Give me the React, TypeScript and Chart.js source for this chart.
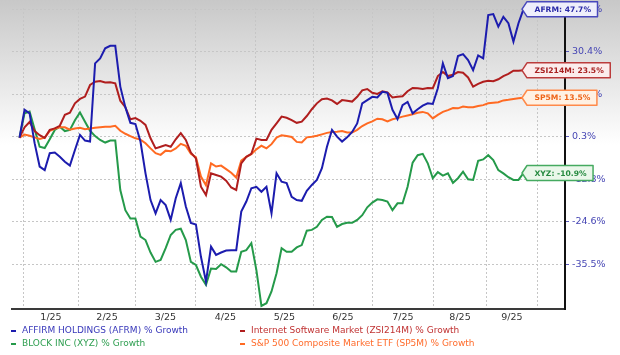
import React, { useEffect, useRef } from 'react';
import { Chart, LinearScale, registerables } from 'chart.js';

Chart.register(...registerables);

// ---------- data ----------
const MONTH_LABELS = ['1/25', '2/25', '3/25', '4/25', '5/25', '6/25', '7/25', '8/25', '9/25'];
// month boundaries on the sample-index axis
const MONTH_BOUNDS = [0.75, 11.75, 22.98, 34.88, 46.79, 58.29, 70.0, 82.1, 92.7, 102.7];
const Y_TICKS = [-35.5, -24.6, -12.8, 0.3, 14.7, 30.4, 47.7];

const AFRM = [
  0, 9.4, 8.2, -1.7, -8.9, -10.0, -4.8, -4.6, -5.9, -7.4,
  -8.6, -3.8, 0.9, -0.9, -1.2, 26.1, 27.9, 31.8, 32.8, 32.8,
  17.5, 10.3, 5.0, 4.6, -1.2, -11.0, -18.6, -22.3, -18.6, -20.0,
  -24.1, -18.1, -13.9, -20.4, -24.9, -25.3, -33.6, -40.0, -31.0, -33.1,
  -32.5, -32.0, -31.9, -31.9, -21.8, -19.0, -15.3, -14.9, -16.3, -14.9,
  -22.3, -11.0, -13.5, -13.9, -17.7, -18.6, -18.8, -16.0, -14.4, -13.0,
  -9.4, -2.8, 2.6, 0.3, -1.2, 0.1, 1.9, 4.8, 11.6, 12.7,
  13.8, 13.6, 15.6, 15.2, 9.4, 6.3, 11.0, 12.1, 8.2, 9.6,
  10.8, 11.6, 11.4, 16.9, 26.1, 20.6, 21.4, 28.8, 29.5, 27.3,
  23.6, 29.0, 27.9, 45.3, 45.7, 40.6, 44.6, 42.0, 34.5, 42.0, 47.7,
];

const ZSI214M = [
  0, 3.5, 5.3, 2.2, 0.8, -0.1, 2.6, 3.1, 4.0, 7.7,
  8.4, 11.6, 13.1, 13.9, 18.1, 19.3, 19.6, 19.0, 19.1, 18.7,
  12.5, 10.3, 6.2, 6.6, 5.7, 4.3, -0.2, -3.3, -2.8, -2.3,
  -2.8, -0.5, 1.5, -0.7, -4.6, -6.4, -14.9, -17.2, -11.0, -11.5,
  -12.0, -13.2, -15.1, -15.8, -7.9, -5.9, -5.0, -0.3, -0.7, -0.7,
  2.6, 4.8, 7.1, 6.7, 5.9, 5.0, 5.4, 7.3, 9.6, 11.6,
  13.0, 13.2, 12.6, 11.4, 12.7, 12.5, 12.2, 13.8, 16.1, 16.6,
  15.2, 14.8, 15.8, 15.4, 13.6, 13.8, 14.0, 15.8, 17.0, 16.9,
  16.6, 17.0, 16.9, 21.4, 22.9, 21.4, 21.9, 22.9, 22.6, 20.9,
  17.5, 18.5, 19.3, 19.7, 19.5, 20.2, 21.4, 22.2, 23.4, 23.4, 23.5,
];

const SP5M = [
  0, 1.0, 0.6, 0.1, -0.4, 0.0, 2.3, 3.0, 3.5, 3.5,
  2.7, 3.1, 3.3, 2.8, 3.1, 3.3, 3.5, 3.7, 3.7, 4.0,
  2.3, 1.3, 0.5, -0.2, -0.6, -1.7, -3.3, -4.8, -5.3, -4.0,
  -4.2, -3.3, -1.9, -2.5, -5.0, -6.0, -12.0, -14.5, -7.9, -8.9,
  -8.6, -9.7, -10.8, -12.3, -7.1, -5.9, -5.1, -3.6, -2.5, -3.3,
  -2.0, 0.0, 0.8, 0.5, 0.2, -1.3, -1.5, 0.1, 0.3, 0.6,
  1.1, 1.6, 1.9, 2.0, 2.2, 1.7, 1.7, 2.6, 3.9, 4.8,
  5.5, 6.4, 6.2, 5.5, 6.2, 6.6, 7.1, 7.5, 7.9, 8.4,
  8.7, 8.2, 6.5, 7.7, 8.7, 9.3, 10.0, 9.9, 10.5, 10.3,
  10.3, 10.7, 11.0, 11.6, 11.8, 12.0, 12.6, 12.8, 13.1, 13.3, 13.5,
];

const XYZ = [
  0, 8.2, 8.8, 2.8, -2.8, -3.2, -0.5, 2.6, 3.7, 2.2,
  2.6, 5.9, 8.5, 5.4, 2.3, 0.5, -0.7, -1.5, -0.9, -0.9,
  -15.8, -21.4, -23.7, -23.7, -28.4, -29.3, -32.5, -34.9, -34.4, -31.4,
  -28.0, -26.7, -26.4, -29.3, -34.9, -35.7, -38.7, -40.8, -36.6, -36.7,
  -35.5, -36.3, -37.4, -37.4, -32.3, -31.9, -30.1, -37.0, -46.2, -45.5,
  -42.5, -37.8, -31.4, -32.3, -32.3, -31.2, -30.6, -26.9, -26.7, -25.9,
  -24.1, -23.2, -23.3, -25.9, -25.2, -24.9, -24.9, -24.1, -22.8, -20.6,
  -19.3, -18.4, -18.6, -19.0, -21.4, -19.5, -19.5, -14.9, -7.7, -5.4,
  -5.0, -7.9, -12.5, -10.6, -11.7, -11.0, -13.8, -12.5, -10.5, -12.8,
  -13.0, -7.1, -6.7, -5.4, -6.9, -10.0, -11.0, -12.2, -13.0, -13.0, -10.9,
];

const SERIES = [
  { short: 'AFRM', name: 'AFFIRM HOLDINGS (AFRM) % Growth', data: AFRM },
  { short: 'ZSI214M', name: 'Internet Software Market (ZSI214M) % Growth', data: ZSI214M },
  { short: 'SP5M', name: 'S&P 500 Composite Market ETF (SP5M) % Growth', data: SP5M },
  { short: 'XYZ', name: 'BLOCK INC (XYZ) % Growth', data: XYZ },
];

// ---------- styles ----------
const STYLE = [
  { line: '#1c1cae', text: '#3838ba', fill: '#eeeefb', edge: '#4848bc', label: '#2a2aa8' },
  { line: '#b01e1e', text: '#c03232', fill: '#fbecec', edge: '#bb3c3c', label: '#a82020' },
  { line: '#ff6a22', text: '#ff6c2c', fill: '#fff1e3', edge: '#ff8a4a', label: '#ee6418' },
  { line: '#259a4a', text: '#2e9e50', fill: '#eaf7ea', edge: '#45aa60', label: '#268a40' },
];
// legend layout: [series index, x, y]
const LEGEND_SLOTS = [
  [0, 11, 331],
  [1, 240, 331],
  [3, 11, 344],
  [2, 240, 344],
];

// scale geometry (in tick units)
const U_MIN = -1.054;
const U_MAX = 6.028;
const X_MIN = -1.488;
const X_MAX = 108.23;

function toUnit(v: number): number {
  const t = Y_TICKS;
  const n = t.length;
  if (v <= t[0]) return (v - t[0]) / (t[1] - t[0]);
  if (v >= t[n - 1]) return n - 1 + (v - t[n - 1]) / (t[n - 1] - t[n - 2]);
  for (let i = 0; i < n - 1; i++) {
    if (v <= t[i + 1]) return i + (v - t[i]) / (t[i + 1] - t[i]);
  }
  return n - 1;
}
function fromUnit(u: number): number {
  const t = Y_TICKS;
  const n = t.length;
  if (u <= 0) return t[0] + u * (t[1] - t[0]);
  if (u >= n - 1) return t[n - 1] + (u - (n - 1)) * (t[n - 1] - t[n - 2]);
  const i = Math.floor(u);
  return t[i] + (u - i) * (t[i + 1] - t[i]);
}

class BandedScale extends LinearScale {
  static id = 'banded';
  static defaults = LinearScale.defaults;
  determineDataLimits() {
    (this as any).min = fromUnit(U_MIN);
    (this as any).max = fromUnit(U_MAX);
  }
  buildTicks() {
    (this as any).start = (this as any).min;
    (this as any).end = (this as any).max;
    return Y_TICKS.map((value) => ({ value }));
  }
  getPixelForValue(value: number) {
    return (this as any).getPixelForDecimal((toUnit(value) - U_MIN) / (U_MAX - U_MIN));
  }
  getValueForPixel(pixel: number) {
    return fromUnit(U_MIN + (this as any).getDecimalForPixel(pixel) * (U_MAX - U_MIN));
  }
}
Chart.register(BandedScale as any);

const X_TICKS: number[] = [];
MONTH_BOUNDS.forEach((b, i) => {
  X_TICKS.push(b);
  if (i < MONTH_BOUNDS.length - 1) X_TICKS.push((b + MONTH_BOUNDS[i + 1]) / 2);
});

const backgroundPlugin = {
  id: 'bgGradient',
  beforeDraw(chart: any) {
    const { ctx, width, height } = chart;
    const g = ctx.createLinearGradient(0, 0, 0, 145);
    g.addColorStop(0, '#c8c8c8');
    g.addColorStop(1, '#ffffff');
    ctx.save();
    ctx.fillStyle = '#ffffff';
    ctx.fillRect(0, 0, width, height);
    ctx.fillStyle = g;
    ctx.fillRect(0, 0, width, 145);
    ctx.restore();
  },
};

const overlayPlugin = {
  id: 'overlay',
  afterDraw(chart: any) {
    const ctx = chart.ctx;
    ctx.save();
    // callouts
    SERIES.forEach((s, di) => {
      const meta = chart.getDatasetMeta(di);
      const pt = meta.data[meta.data.length - 1];
      if (!pt) return;
      const st = STYLE[di];
      const last = s.data[s.data.length - 1];
      const text = `${s.short}: ${last.toFixed(1)}%`;
      ctx.font = 'bold 7.6px "DejaVu Sans"';
      const tw = ctx.measureText(text).width;
      const tipX = pt.x - 1.5;
      const cy = pt.y;
      const x0 = tipX + 5;
      const x1 = x0 + tw + 14;
      const h = 15;
      const top = cy - h / 2;
      const bot = cy + h / 2;
      ctx.beginPath();
      ctx.moveTo(tipX, cy);
      ctx.lineTo(x0, top);
      ctx.lineTo(x1, top);
      ctx.lineTo(x1, bot);
      ctx.lineTo(x0, bot);
      ctx.closePath();
      ctx.fillStyle = st.fill;
      ctx.fill();
      ctx.lineWidth = 1.5;
      ctx.lineJoin = 'round';
      ctx.strokeStyle = st.edge;
      ctx.stroke();
      ctx.fillStyle = st.label;
      ctx.textAlign = 'left';
      ctx.textBaseline = 'middle';
      ctx.fillText(text, x0 + 7.5, cy + 0.5);
    });
    // legend
    ctx.font = '9px "DejaVu Sans"';
    ctx.textAlign = 'left';
    ctx.textBaseline = 'middle';
    LEGEND_SLOTS.forEach(([si, x, y]) => {
      const st = STYLE[si];
      ctx.fillStyle = st.line;
      ctx.fillRect(x, y - 1, 5, 2);
      ctx.fillStyle = st.text;
      ctx.fillText(SERIES[si].name, x + 11, y);
    });
    ctx.restore();
  },
};

export default function App() {
  const canvasRef = useRef<HTMLCanvasElement | null>(null);

  useEffect(() => {
    if (!canvasRef.current) return;
    const chart = new Chart(canvasRef.current, {
      type: 'line',
      data: {
        datasets: SERIES.map((s, i) => ({
          label: s.name,
          data: s.data.map((v, k) => ({ x: k, y: v })),
          borderColor: STYLE[i].line,
          backgroundColor: STYLE[i].line,
          borderWidth: 2,
          pointRadius: 0,
          tension: 0,
          fill: false,
        })),
      },
      options: {
        responsive: false,
        animation: false,
        devicePixelRatio: 1,
        events: [],
        layout: { padding: { left: 12, top: 8, right: 0, bottom: 0 } },
        plugins: {
          legend: { display: false },
          tooltip: { enabled: false },
        },
        scales: {
          x: {
            type: 'linear',
            min: X_MIN,
            max: X_MAX,
            afterBuildTicks: (scale: any) => {
              scale.ticks = X_TICKS.map((value) => ({ value }));
            },
            afterFit: (scale: any) => {
              scale.height = 46;
              scale.paddingLeft = 0;
              scale.paddingRight = 0;
            },
            grid: {
              color: (c: any) => (c.index % 2 === 0 ? '#c6c6c6' : 'rgba(0,0,0,0)'),
              lineWidth: 1,
              drawTicks: false,
            },
            border: { display: true, color: '#3a3a3a', width: 2, dash: [2, 2] },
            ticks: {
              autoSkip: false,
              maxRotation: 0,
              minRotation: 0,
              padding: 3,
              color: '#333333',
              font: { family: 'DejaVu Sans', size: 9.5 },
              callback: (_v: any, i: number) => (i % 2 === 1 ? MONTH_LABELS[(i - 1) / 2] : ''),
            },
          },
          y: {
            type: 'banded' as any,
            position: 'right',
            afterFit: (scale: any) => {
              scale.width = 55;
              scale.paddingTop = 0;
              scale.paddingBottom = 0;
            },
            grid: {
              color: '#c6c6c6',
              lineWidth: 1,
              drawTicks: true,
              tickLength: 4,
              tickColor: '#5a5abb',
              tickWidth: 1,
              tickBorderDash: [],
            },
            border: { display: true, color: '#111111', width: 2, dash: [2, 2] },
            ticks: {
              padding: 3,
              color: '#4646b4',
              font: { family: 'DejaVu Sans', size: 9.5 },
              autoSkip: false,
              callback: (v: any) => `${Number(v).toFixed(1)}%`,
            },
          },
        },
      } as any,
      plugins: [backgroundPlugin, overlayPlugin],
    });
    return () => chart.destroy();
  }, []);

  return (
    <div style={{ position: 'absolute', left: 0, top: 0, width: 620, height: 355 }}>
      <canvas ref={canvasRef} width={620} height={355} style={{ display: 'block' }} />
    </div>
  );
}
